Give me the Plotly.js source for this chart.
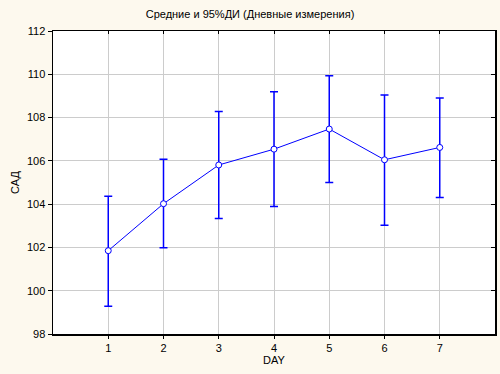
<!DOCTYPE html>
<html>
<head>
<meta charset="utf-8">
<script src="https://cdn.plot.ly/plotly-3.0.1.min.js"></script>
<style>html,body{margin:0;padding:0;background:#fdf9ee;}#chart{width:500px;height:374px;}</style>
</head>
<body>
<div id="chart"></div>
<script>
var days = [1, 2, 3, 4, 5, 6, 7];
var means = [101.85, 104.02, 105.81, 106.54, 107.47, 106.05, 106.62];
var upper = [104.37, 106.08, 108.28, 109.19, 109.93, 109.04, 108.91];
var lower = [99.28, 101.99, 103.34, 103.89, 105.0, 103.03, 104.31];
var xTicks = [1, 2, 3, 4, 5, 6, 7];
var yTicks = [98, 100, 102, 104, 106, 108, 110, 112];

var errPlus = means.map(function (m, i) { return upper[i] - m; });
var errMinus = means.map(function (m, i) { return m - lower[i]; });

var trace = {
  x: days,
  y: means,
  type: 'scatter',
  mode: 'lines+markers',
  line: {color: '#0000ff', width: 1},
  marker: {symbol: 'circle', size: 6, color: '#ffffff', line: {color: '#0000ff', width: 1}},
  error_y: {type: 'data', symmetric: false, array: errPlus, arrayminus: errMinus,
            color: '#0000ff', thickness: 1.5, width: 4},
  showlegend: false
};
var ghost = {x: [0], y: [98], xaxis: 'x2', yaxis: 'y2', mode: 'markers',
  marker: {opacity: 0}, showlegend: false, hoverinfo: 'skip'};

var font = {family: 'Liberation Sans, Arial, sans-serif', size: 11, color: '#000'};
var layout = {
  width: 500, height: 374,
  paper_bgcolor: '#fdf9ee',
  plot_bgcolor: '#ffffff',
  margin: {l: 53, r: 5, t: 31, b: 40},
  font: font,
  title: {text: 'Средние и 95%ДИ (Дневные измерения)', font: {family: font.family, size: 11, color: '#000'},
          x: 0.5, xanchor: 'center', y: 0.962, yanchor: 'middle'},
  xaxis: {range: [0, 8], tickvals: xTicks, ticktext: xTicks.map(String),
          showgrid: true, gridcolor: '#cccccc', gridwidth: 1, zeroline: false,
          showline: true, linecolor: '#000', linewidth: 1.5, ticks: 'outside', ticklen: 3, tickcolor: '#000',
          title: {text: 'DAY', font: font, standoff: 2}, tickfont: font},
  yaxis: {range: [98, 112], tickvals: yTicks, ticktext: yTicks.map(String),
          showgrid: true, gridcolor: '#cccccc', gridwidth: 1, zeroline: false,
          showline: true, linecolor: '#000', linewidth: 1.5, ticks: 'outside', ticklen: 4, tickcolor: '#000',
          title: {text: 'САД', font: font, standoff: 5}, tickfont: font},
  xaxis2: {range: [0, 8], overlaying: 'x', side: 'top', tickvals: xTicks, showticklabels: false,
           showgrid: false, zeroline: false, showline: true, linecolor: '#000', linewidth: 1.5,
           ticks: 'inside', ticklen: 3, tickcolor: '#000'},
  yaxis2: {range: [98, 112], overlaying: 'y', side: 'right', tickvals: yTicks, showticklabels: false,
           showgrid: false, zeroline: false, showline: true, linecolor: '#000', linewidth: 1.5,
           ticks: 'inside', ticklen: 4, tickcolor: '#000'}
};
Plotly.newPlot('chart', [trace, ghost], layout, {displayModeBar: false, staticPlot: true});
</script>
</body>
</html>
